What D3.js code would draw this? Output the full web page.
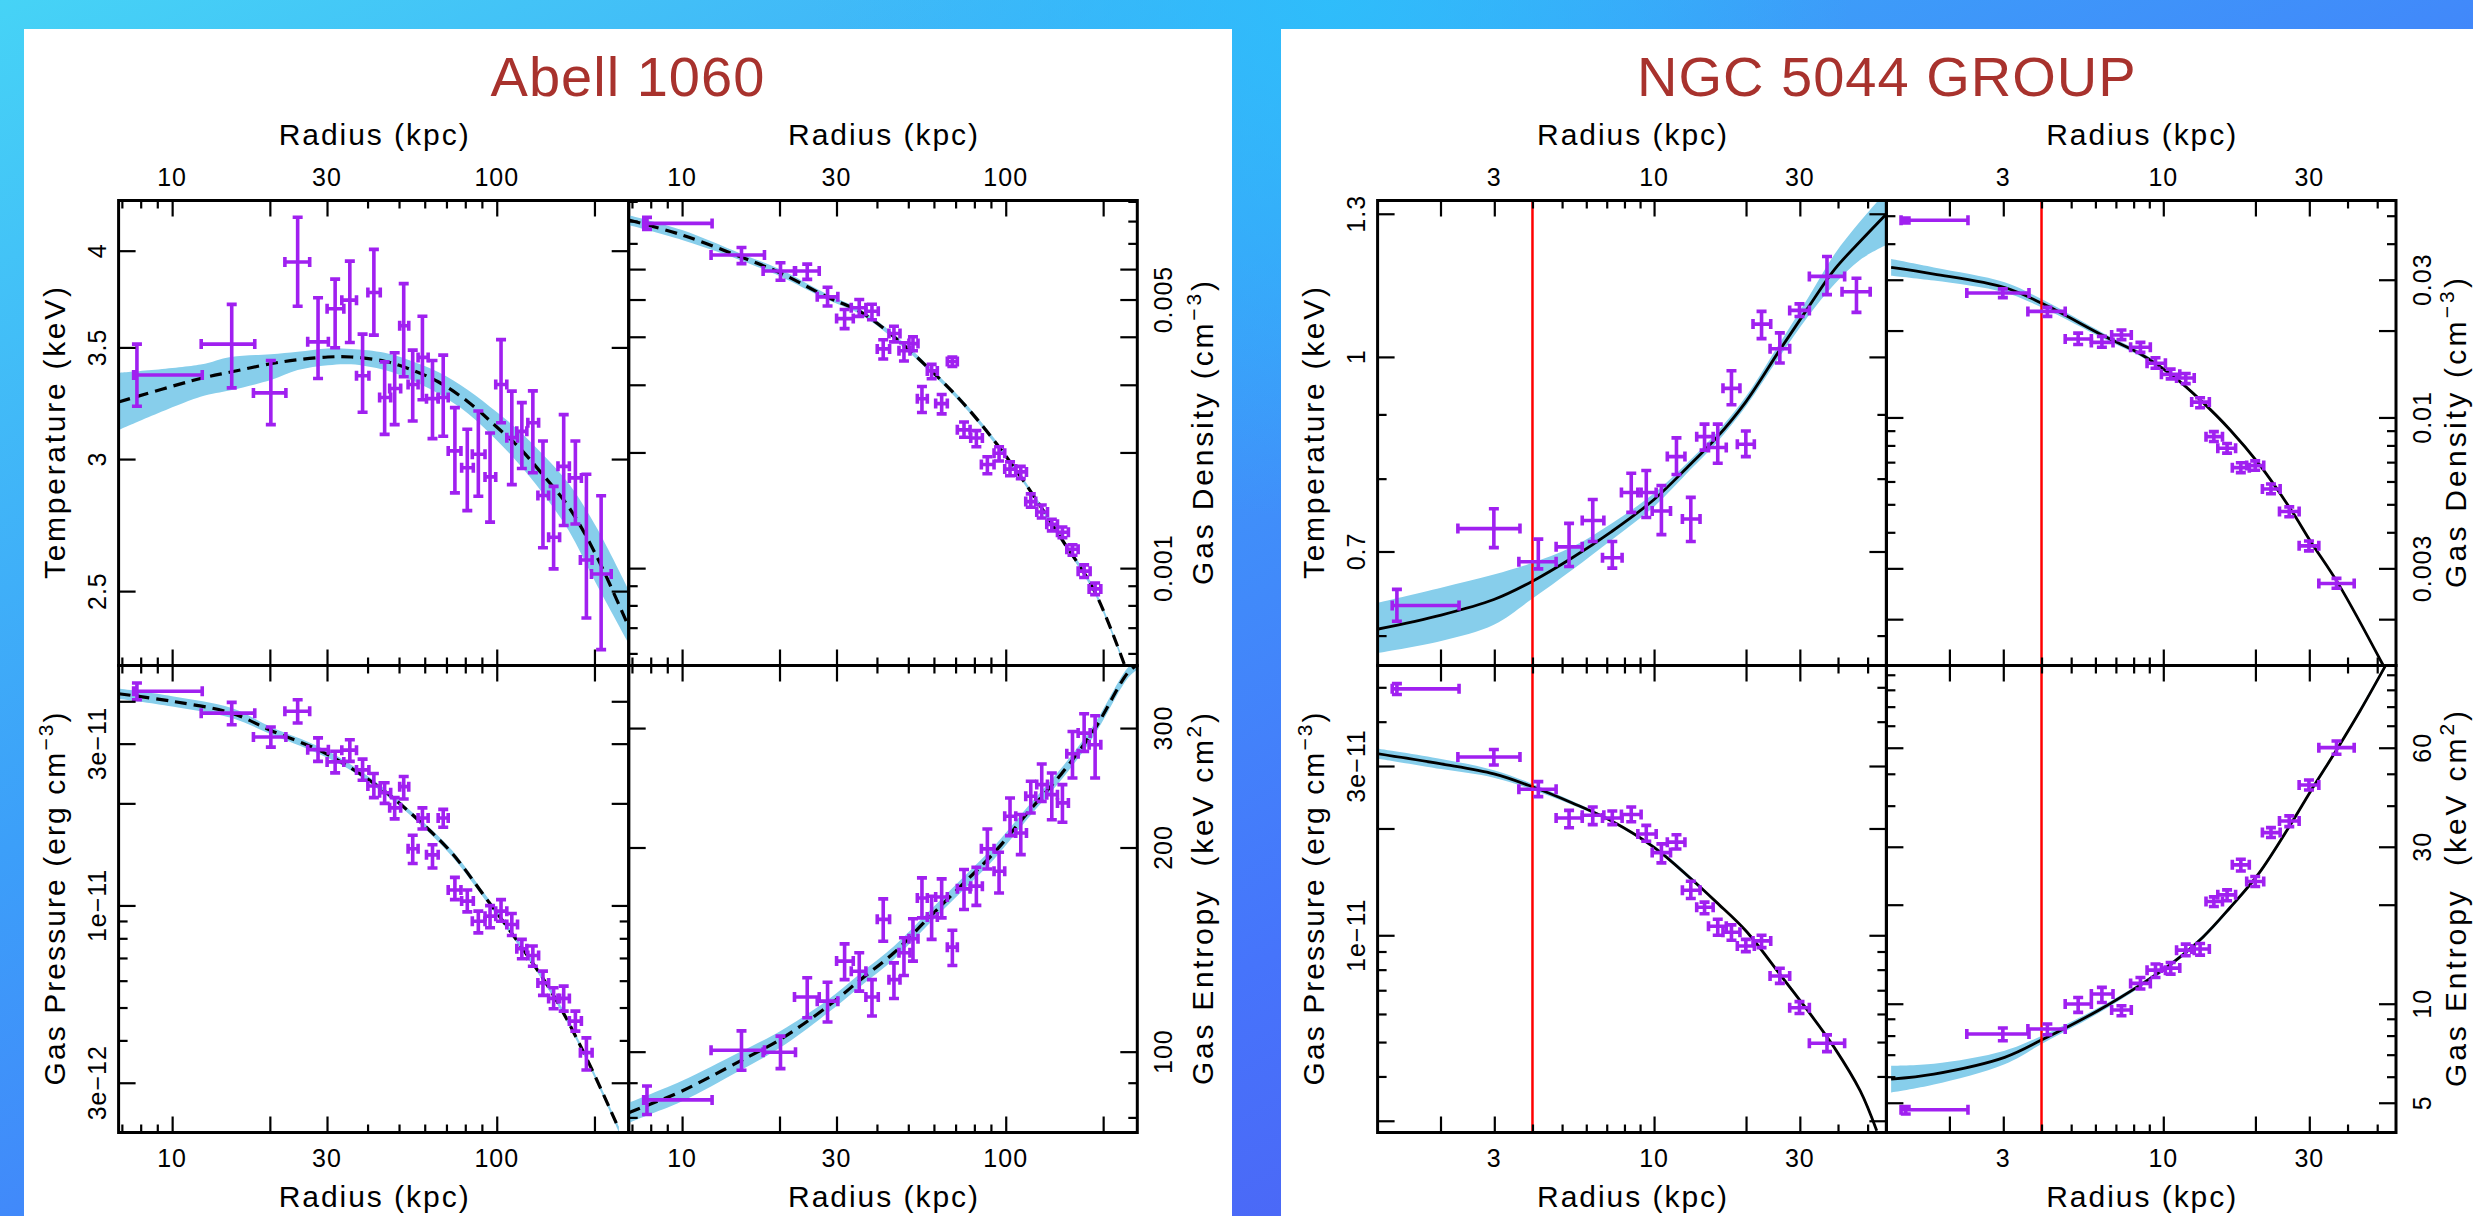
<!DOCTYPE html>
<html>
<head>
<meta charset="utf-8">
<script src="https://cdn.jsdelivr.net/npm/d3@7"></script>
<style>
html, body { margin: 0; padding: 0; overflow: hidden; background: #3f8ff8; }
svg { display: block; }
text { font-family: "Liberation Sans", Arial, Helvetica, sans-serif; }
</style>
</head>
<body>
<svg id="fig" width="2473" height="1216"></svg>
<script>
// ---------------- Abell 1060 : radial bins (kpc) ----------------
var a1060R   = [7.79, 15.26, 20.14, 24.36, 28.15, 31.78, 35.27, 38.61, 41.83, 45.15, 48.48, 51.69, 55.10, 59.03, 63.40, 68.41, 74.32, 81.15, 87.76, 95.37, 103.1, 111.3, 119.5, 129.2, 138.8, 149.7, 160.8, 174.7, 188.9, 209.7];
var a1060RLo = [7.61, 12.29, 17.80, 22.25, 26.16, 30.02, 33.32, 36.98, 40.09, 43.57, 46.79, 50.23, 53.32, 57.24, 60.75, 66.00, 70.87, 77.96, 84.09, 92.02, 99.29, 107.4, 115.3, 124.7, 133.9, 144.5, 154.4, 167.4, 181.0, 195.8];
var a1060RHi = [12.38, 17.97, 22.41, 26.53, 30.29, 33.80, 36.98, 40.38, 43.77, 47.13, 50.59, 53.57, 57.24, 61.47, 66.00, 70.87, 77.58, 84.69, 92.02, 99.29, 107.4, 115.9, 123.8, 134.6, 144.5, 156.2, 167.4, 182.3, 196.7, 225.2];

// temperature (keV)
var a1060T   = [3.369, 3.516, 3.287, 3.938, 3.527, 3.692, 3.736, 3.366, 3.776, 3.266, 3.307, 3.606, 3.325, 3.452, 3.261, 3.266, 3.034, 2.964, 3.020, 2.927, 3.325, 3.090, 3.117, 3.154, 2.853, 2.693, 2.970, 2.923, 2.610, 2.560];
var a1060THi = [3.516, 3.714, 3.437, 4.189, 3.748, 3.846, 3.943, 3.565, 4.007, 3.431, 3.474, 3.822, 3.487, 3.654, 3.437, 3.463, 3.221, 3.126, 3.206, 3.110, 3.538, 3.295, 3.243, 3.296, 3.076, 2.889, 3.190, 3.076, 2.938, 2.852];
var a1060TLo = [3.227, 3.310, 3.146, 3.705, 3.353, 3.498, 3.524, 3.200, 3.560, 3.104, 3.146, 3.361, 3.162, 3.256, 3.086, 3.096, 2.863, 2.794, 2.850, 2.750, 3.154, 2.896, 2.961, 2.944, 2.654, 2.578, 2.737, 2.743, 2.409, 2.306];

// gas density (cm^-3)
var a1060Ne   = [0.00789, 0.00653, 0.00593, 0.00593, 0.00508, 0.00446, 0.00476, 0.00466, 0.00372, 0.00408, 0.00368, 0.00384, 0.00276, 0.00326, 0.00268, 0.00345, 0.00229, 0.00218, 0.00186, 0.00199, 0.00181, 0.00178, 0.00149, 0.00140, 0.00130, 0.00124, 0.00112, 0.000982, 0.000883, null];
var a1060NeHi = [0.00818, 0.00683, 0.00623, 0.00618, 0.00538, 0.00471, 0.00500, 0.00486, 0.00393, 0.00426, 0.00386, 0.00400, 0.00297, 0.00339, 0.00283, 0.00354, 0.00240, 0.00228, 0.00195, 0.00207, 0.00189, 0.00184, 0.00156, 0.00146, 0.00134, 0.00128, 0.00115, 0.00102, 0.000915, null];
var a1060NeLo = [0.00761, 0.00620, 0.00561, 0.00564, 0.00481, 0.00420, 0.00452, 0.00443, 0.00350, 0.00388, 0.00346, 0.00368, 0.00254, 0.00311, 0.00252, 0.00335, 0.00219, 0.00207, 0.00176, 0.00190, 0.00174, 0.00171, 0.00144, 0.00135, 0.00125, 0.00120, 0.00108, 0.000945, 0.000853, null];

// gas pressure (erg cm^-3)
var a1060P   = [4.28e-11, 3.69e-11, 3.14e-11, 3.74e-11, 2.88e-11, 2.65e-11, 2.87e-11, 2.51e-11, 2.25e-11, 2.15e-11, 1.94e-11, 2.24e-11, 1.47e-11, 1.81e-11, 1.41e-11, 1.81e-11, 1.11e-11, 1.03e-11, 8.98e-12, 9.30e-12, 9.62e-12, 8.79e-12, 7.45e-12, 7.12e-12, 5.91e-12, 5.32e-12, 5.32e-12, 4.56e-12, 3.68e-12, null];
var a1060PHi = [4.53e-11, 3.97e-11, 3.36e-11, 4.04e-11, 3.12e-11, 2.85e-11, 3.08e-11, 2.70e-11, 2.45e-11, 2.30e-11, 2.08e-11, 2.40e-11, 1.61e-11, 1.94e-11, 1.51e-11, 1.92e-11, 1.21e-11, 1.11e-11, 9.62e-12, 9.99e-12, 1.04e-11, 9.47e-12, 7.94e-12, 7.59e-12, 6.40e-12, 5.72e-12, 5.78e-12, 4.88e-12, 4.07e-12, null];
var a1060PLo = [4.04e-11, 3.41e-11, 2.93e-11, 3.45e-11, 2.66e-11, 2.46e-11, 2.66e-11, 2.34e-11, 2.08e-11, 2.00e-11, 1.80e-11, 2.06e-11, 1.33e-11, 1.68e-11, 1.29e-11, 1.70e-11, 1.04e-11, 9.57e-12, 8.30e-12, 8.59e-12, 8.98e-12, 8.15e-12, 6.96e-12, 6.62e-12, 5.43e-12, 4.96e-12, 4.88e-12, 4.26e-12, 3.27e-12, null];

// gas entropy (keV cm^2)
var a1060K   = [84.9, 100.5, 99.8, 120.4, 118.7, 136.0, 131.4, 120.4, 156.7, 127.7, 139.9, 146.7, 168.5, 158.0, 169.1, 142.6, 173.8, 175.4, 199.1, 184.5, 222.4, 210.1, 238.0, 247.6, 239.3, 232.7, 275.0, 294.9, 283.5, null];
var a1060KHi = [89.0, 107.3, 105.4, 128.5, 126.6, 144.2, 139.9, 127.7, 168.0, 135.2, 147.2, 157.0, 180.4, 169.5, 179.8, 151.0, 185.6, 187.0, 213.0, 196.8, 236.6, 223.7, 250.4, 265.5, 257.5, 247.6, 296.6, 314.9, 312.8, null];
var a1060KLo = [80.8, 93.9, 94.4, 112.2, 110.6, 127.7, 122.8, 112.9, 145.5, 119.8, 129.5, 136.0, 157.5, 146.4, 157.5, 134.0, 162.0, 164.3, 185.9, 171.4, 208.2, 195.2, 224.9, 233.9, 219.8, 217.9, 253.2, 277.2, 253.2, null];

// model curves with their bands
var a1060FitTR  = [6.84, 12.23, 15.14, 20.14, 24.36, 30.17, 35.6, 45.15, 53.3, 66.0, 81.7, 100, 116.7, 137.8, 166.6, 201.4, 255.4];
var a1060FitT   = [3.246, 3.353, 3.383, 3.422, 3.441, 3.454, 3.454, 3.434, 3.400, 3.338, 3.246, 3.136, 3.051, 2.940, 2.808, 2.632, 2.378];
var a1060FitTHi = [3.379, 3.418, 3.454, 3.467, 3.479, 3.495, 3.492, 3.474, 3.441, 3.383, 3.299, 3.201, 3.122, 3.023, 2.900, 2.737, 2.502];
var a1060FitTLo = [3.122, 3.269, 3.299, 3.346, 3.392, 3.415, 3.419, 3.392, 3.353, 3.284, 3.194, 3.079, 2.982, 2.866, 2.718, 2.531, 2.324];

var a1060FitNeR  = [6.84, 10, 15.14, 20.05, 28.05, 35.6, 45.15, 57.2, 72.6, 92.0, 116.7, 147.9, 187.6, 232.3];
var a1060FitNe   = [0.00805, 0.00736, 0.00646, 0.00587, 0.00508, 0.00464, 0.00400, 0.00334, 0.00273, 0.00215, 0.00163, 0.00120, 0.000875, 0.000563];
var a1060FitNeHi = [0.00829, 0.00758, 0.00659, 0.00599, 0.00516, 0.00471, 0.00406, 0.00339, 0.00277, 0.00218, 0.00165, 0.00122, 0.000888, 0.000571];
var a1060FitNeLo = [0.00781, 0.00714, 0.00633, 0.00575, 0.00500, 0.00457, 0.00394, 0.00329, 0.00269, 0.00212, 0.00161, 0.00118, 0.000862, 0.000555];

var a1060FitPR  = [6.84, 10, 15.26, 20.14, 28.1, 35.6, 45.15, 57.2, 72.6, 92.0, 116.7, 147.9, 187.6, 237.9];
var a1060FitP   = [4.21e-11, 4.00e-11, 3.69e-11, 3.28e-11, 2.88e-11, 2.54e-11, 2.17e-11, 1.79e-11, 1.43e-11, 1.06e-11, 7.76e-12, 5.53e-12, 3.60e-12, 2.19e-12];
var a1060FitPHi = [4.36e-11, 4.14e-11, 3.82e-11, 3.36e-11, 2.95e-11, 2.60e-11, 2.21e-11, 1.82e-11, 1.46e-11, 1.08e-11, 7.90e-12, 5.63e-12, 3.66e-12, 2.23e-12];
var a1060FitPLo = [4.07e-11, 3.86e-11, 3.57e-11, 3.20e-11, 2.81e-11, 2.50e-11, 2.13e-11, 1.76e-11, 1.40e-11, 1.04e-11, 7.62e-12, 5.43e-12, 3.54e-12, 2.15e-12];

var a1060FitKR  = [6.84, 7.79, 10, 15.14, 20.14, 28.1, 35.6, 45.15, 57.2, 72.6, 92.0, 116.7, 147.9, 187.6, 237.9, 255];
var a1060FitK   = [81.3, 83.3, 87.5, 96.9, 104.3, 116.5, 127.7, 139.9, 156.7, 175.4, 196.4, 224.9, 256.1, 298.3, 361.5, 372];
var a1060FitKHi = [84.1, 86.2, 90.6, 100.0, 107.3, 119.1, 130.5, 143.0, 160.1, 179.3, 200.7, 229.4, 261.2, 304.0, 368.0, 378];
var a1060FitKLo = [78.5, 80.5, 84.5, 93.9, 101.4, 113.9, 124.9, 136.9, 153.3, 171.6, 192.2, 220.4, 251.0, 292.6, 355.0, 366];

// ---------------- NGC 5044 group : radial bins (kpc) ----------------
var n5044R   = [1.44, 2.99, 4.18, 5.27, 6.30, 7.30, 8.42, 9.43, 10.57, 11.84, 13.19, 14.63, 16.16, 17.92, 19.97, 22.48, 25.80, 29.92, 36.81, 45.97];
var n5044RLo = [1.39, 2.28, 3.61, 4.78, 5.82, 6.78, 7.82, 8.85, 9.86, 11.05, 12.38, 13.79, 15.07, 16.81, 18.73, 21.08, 23.97, 27.79, 32.23, 41.23];
var n5044RHi = [2.30, 3.64, 4.78, 5.82, 6.85, 7.86, 9.07, 10.16, 11.32, 12.62, 14.14, 15.61, 17.23, 19.10, 21.29, 24.09, 27.79, 32.23, 42.05, 50.97];

var n5044T   = [0.634, 0.730, 0.687, 0.706, 0.741, 0.692, 0.780, 0.780, 0.754, 0.833, 0.743, 0.864, 0.847, 0.944, 0.852, 1.062, 1.015, 1.089, 1.159, 1.127];
var n5044THi = [0.653, 0.757, 0.716, 0.737, 0.770, 0.713, 0.808, 0.812, 0.790, 0.862, 0.773, 0.884, 0.884, 0.975, 0.873, 1.087, 1.045, 1.102, 1.202, 1.155];
var n5044TLo = [0.616, 0.705, 0.678, 0.681, 0.713, 0.679, 0.752, 0.745, 0.722, 0.806, 0.713, 0.843, 0.823, 0.916, 0.833, 1.034, 0.989, 1.077, 1.121, 1.085];

var n5044Ne   = [0.0482, 0.0270, 0.0233, 0.0187, 0.0182, 0.0193, 0.0175, 0.0154, 0.0141, 0.0137, 0.0113, 0.00858, 0.00782, 0.00670, 0.00681, 0.00565, 0.00472, 0.00359, 0.00266, null];
var n5044NeHi = [0.0491, 0.0279, 0.0241, 0.0196, 0.0191, 0.0201, 0.0182, 0.0161, 0.0147, 0.0142, 0.0117, 0.00893, 0.00812, 0.00697, 0.00707, 0.00588, 0.00490, 0.00373, 0.00277, null];
var n5044NeLo = [0.0472, 0.0260, 0.0224, 0.0179, 0.0175, 0.0186, 0.0168, 0.0148, 0.0136, 0.0131, 0.0108, 0.00825, 0.00752, 0.00644, 0.00656, 0.00544, 0.00453, 0.00345, 0.00256, null];

var n5044P   = [4.95e-11, 3.18e-11, 2.58e-11, 2.14e-11, 2.18e-11, 2.14e-11, 2.19e-11, 1.93e-11, 1.71e-11, 1.83e-11, 1.34e-11, 1.20e-11, 1.06e-11, 1.02e-11, 9.33e-12, 9.64e-12, 7.68e-12, 6.25e-12, 4.96e-12, null];
var n5044PHi = [5.12e-11, 3.34e-11, 2.71e-11, 2.25e-11, 2.30e-11, 2.24e-11, 2.30e-11, 2.04e-11, 1.81e-11, 1.92e-11, 1.42e-11, 1.24e-11, 1.11e-11, 1.07e-11, 9.74e-12, 1.00e-11, 8.07e-12, 6.50e-12, 5.24e-12, null];
var n5044PLo = [4.77e-11, 3.02e-11, 2.46e-11, 2.01e-11, 2.05e-11, 2.05e-11, 2.09e-11, 1.84e-11, 1.60e-11, 1.75e-11, 1.27e-11, 1.15e-11, 1.00e-11, 9.68e-12, 8.99e-12, 9.23e-12, 7.32e-12, 6.02e-12, 4.70e-12, null];

var n5044K   = [4.76, 8.09, 8.38, 9.98, 10.70, 9.57, 11.53, 12.65, 12.83, 14.55, 14.66, 20.45, 21.43, 26.43, 23.52, 33.13, 35.94, 46.24, 60.03, null];
var n5044KHi = [4.87, 8.44, 8.68, 10.45, 11.21, 9.86, 12.02, 13.20, 13.35, 15.18, 15.25, 21.13, 22.19, 27.50, 24.36, 34.31, 37.23, 47.89, 62.90, null];
var n5044KLo = [4.62, 7.72, 8.05, 9.41, 10.09, 9.19, 11.08, 12.02, 12.30, 13.99, 14.05, 19.75, 20.55, 25.33, 22.72, 32.00, 34.55, 44.65, 57.30, null];

var n5044FitTR  = [1.24, 2.01, 2.99, 3.96, 5.40, 7.26, 10.0, 13.13, 15.99, 19.97, 25.8, 31.9, 38.86, 47.3, 57.7];
var n5044FitT   = [0.607, 0.623, 0.641, 0.662, 0.692, 0.726, 0.770, 0.821, 0.862, 0.921, 1.013, 1.094, 1.173, 1.236, 1.300];
var n5044FitTHi = [0.637, 0.655, 0.671, 0.685, 0.706, 0.737, 0.779, 0.828, 0.870, 0.930, 1.026, 1.114, 1.206, 1.282, 1.355];
var n5044FitTLo = [0.581, 0.594, 0.612, 0.641, 0.677, 0.715, 0.760, 0.813, 0.854, 0.913, 1.001, 1.077, 1.142, 1.195, 1.228];

var n5044FitNeR  = [1.29, 1.78, 3.03, 4.06, 6.42, 8.50, 10.77, 13.44, 16.54, 20.44, 26.17, 30.34, 37.51, 52.2];
var n5044FitNe   = [0.0331, 0.0314, 0.0282, 0.0247, 0.0191, 0.0165, 0.0139, 0.0113, 0.00905, 0.00694, 0.00478, 0.00371, 0.00263, 0.00139];
var n5044FitNeHi = [0.0354, 0.0331, 0.0294, 0.0255, 0.0195, 0.0168, 0.0141, 0.01145, 0.00917, 0.00703, 0.00484, 0.00376, 0.00266, 0.00141];
var n5044FitNeLo = [0.0310, 0.0298, 0.0271, 0.0239, 0.0187, 0.0162, 0.0137, 0.01115, 0.00893, 0.00685, 0.00472, 0.00366, 0.00260, 0.00137];

var n5044FitPR  = [1.24, 2.01, 2.99, 3.96, 5.40, 7.26, 10.0, 13.13, 15.99, 19.97, 25.8, 31.9, 38.86, 47.3, 53.56];
var n5044FitP   = [3.25e-11, 3.04e-11, 2.85e-11, 2.63e-11, 2.36e-11, 2.10e-11, 1.77e-11, 1.45e-11, 1.24e-11, 1.03e-11, 7.77e-12, 6.12e-12, 4.83e-12, 3.64e-12, 2.81e-12];
var n5044FitPHi = [3.36e-11, 3.14e-11, 2.92e-11, 2.68e-11, 2.39e-11, 2.12e-11, 1.79e-11, 1.47e-11, 1.25e-11, 1.04e-11, 7.86e-12, 6.19e-12, 4.88e-12, 3.68e-12, 2.84e-12];
var n5044FitPLo = [3.15e-11, 2.94e-11, 2.78e-11, 2.58e-11, 2.33e-11, 2.08e-11, 1.75e-11, 1.43e-11, 1.23e-11, 1.02e-11, 7.68e-12, 6.05e-12, 4.78e-12, 3.60e-12, 2.78e-12];

var n5044FitKR  = [1.29, 1.78, 3.03, 4.06, 6.11, 8.50, 10.77, 13.44, 16.54, 20.44, 26.17, 30.34, 37.51, 43.93, 53.5];
var n5044FitK   = [5.90, 6.11, 6.87, 7.81, 9.52, 11.47, 13.35, 15.90, 19.61, 24.76, 35.3, 44.34, 60.74, 77.57, 107.5];
var n5044FitKHi = [6.48, 6.57, 7.20, 8.03, 9.70, 11.63, 13.54, 16.12, 19.88, 25.10, 35.8, 44.97, 61.60, 78.70, 109.0];
var n5044FitKLo = [5.37, 5.68, 6.55, 7.60, 9.34, 11.31, 13.16, 15.68, 19.34, 24.42, 34.8, 43.72, 59.90, 76.50, 106.0];

var n5044Rcut = 4;   // red vertical line (kpc)

// ---------------- axis ticks ----------------
var a1060XMajor = [10, 20, 30, 100, 200], a1060XMinor = [7, 8, 9, 40, 50, 60, 70, 80, 90], a1060XLabels = [10, 30, 100];
var n5044XMajor = [2, 3, 10, 20, 30], n5044XMinor = [4, 5, 6, 7, 8, 9, 40, 50], n5044XLabels = [3, 10, 30];

var a1060TTicks = [2.5, 3, 3.5, 4], a1060TMinor = [], a1060TLabels = ["2.5", "3", "3.5", "4"];
var a1060NeTicks = [0.001, 0.002, 0.003, 0.004, 0.005, 0.006], a1060NeMinor = [0.0006, 0.0007, 0.0008, 0.0009, 0.007, 0.008, 0.009], a1060NeLabels = ["0.001", "", "", "", "0.005", ""];
var a1060PTicks = [3e-12, 1e-11, 2e-11, 3e-11, 4e-11], a1060PMinor = [4e-12, 5e-12, 6e-12, 7e-12, 8e-12, 9e-12], a1060PLabels = ["3e\u221212", "1e\u221211", "", "3e\u221211", ""];
var a1060KTicks = [100, 200, 300], a1060KMinor = [80, 90], a1060KLabels = ["100", "200", "300"];

var n5044TTicks = [0.7, 1, 1.3], n5044TMinor = [0.6, 0.8, 0.9], n5044TLabels = ["0.7", "1", "1.3"];
var n5044NeTicks = [0.002, 0.003, 0.01, 0.02, 0.03], n5044NeMinor = [0.004, 0.005, 0.006, 0.007, 0.008, 0.009, 0.04, 0.05], n5044NeLabels = ["", "0.003", "0.01", "", "0.03"];
var n5044PTicks = [3e-12, 1e-11, 2e-11, 3e-11], n5044PMinor = [4e-12, 5e-12, 6e-12, 7e-12, 8e-12, 9e-12, 4e-11, 5e-11], n5044PLabels = ["", "1e\u221211", "", "3e\u221211"];
var n5044KTicks = [5, 10, 20, 30, 60], n5044KMinor = [6, 7, 8, 9, 40, 50, 70, 80, 90, 100], n5044KLabels = ["5", "10", "", "30", "60"];

// ---------------- layout ----------------
var W = 2473, H = 1216;
var PURPLE = "#a020f0", BAND = "#87ceeb", TITLE_RED = "#a8322d";
var rows = [[200.5, 665.5], [665.5, 1132.5]];

var figs = [
  { title: "Abell 1060", cols: [[118.6, 628.7], [628.7, 1137.3]], rDomain: [6.84, 255],
    r: a1060R, rLo: a1060RLo, rHi: a1060RHi, dashed: true, cut: null,
    xMajor: a1060XMajor, xMinor: a1060XMinor, xLabels: a1060XLabels, rightTitleOff: 76 },
  { title: "NGC 5044 GROUP", cols: [[1377.6, 1886.4], [1886.4, 2396]], rDomain: [1.245, 57.6],
    r: n5044R, rLo: n5044RLo, rHi: n5044RHi, dashed: false, cut: n5044Rcut,
    xMajor: n5044XMajor, xMinor: n5044XMinor, xLabels: n5044XLabels, rightTitleOff: 70 }
];

var panels = [
  { fig: 0, col: 0, row: 0, yDomain: [2.256, 4.287], title: ["Temperature (keV)"], len: 292,
    y: a1060T, yHi: a1060THi, yLo: a1060TLo, fr: a1060FitTR, fy: a1060FitT, fHi: a1060FitTHi, fLo: a1060FitTLo,
    ticks: a1060TTicks, minor: a1060TMinor, labels: a1060TLabels },
  { fig: 0, col: 1, row: 0, yDomain: [0.000558, 0.00905], title: ["Gas Density (cm", "\u22123", ")"], len: 304,
    y: a1060Ne, yHi: a1060NeHi, yLo: a1060NeLo, fr: a1060FitNeR, fy: a1060FitNe, fHi: a1060FitNeHi, fLo: a1060FitNeLo,
    ticks: a1060NeTicks, minor: a1060NeMinor, labels: a1060NeLabels },
  { fig: 0, col: 0, row: 1, yDomain: [2.14e-12, 5.10e-11], title: ["Gas Pressure (erg cm", "\u22123", ")"], len: 373,
    y: a1060P, yHi: a1060PHi, yLo: a1060PLo, fr: a1060FitPR, fy: a1060FitP, fHi: a1060FitPHi, fLo: a1060FitPLo,
    ticks: a1060PTicks, minor: a1060PMinor, labels: a1060PLabels },
  { fig: 0, col: 1, row: 1, yDomain: [76.0, 371], title: ["Gas Entropy  (keV cm", "2", ")"], len: 372,
    y: a1060K, yHi: a1060KHi, yLo: a1060KLo, fr: a1060FitKR, fy: a1060FitK, fHi: a1060FitKHi, fLo: a1060FitKLo,
    ticks: a1060KTicks, minor: a1060KMinor, labels: a1060KLabels },
  { fig: 1, col: 0, row: 0, yDomain: [0.568, 1.332], title: ["Temperature (keV)"], len: 292,
    y: n5044T, yHi: n5044THi, yLo: n5044TLo, fr: n5044FitTR, fy: n5044FitT, fHi: n5044FitTHi, fLo: n5044FitTLo,
    ticks: n5044TTicks, minor: n5044TMinor, labels: n5044TLabels },
  { fig: 1, col: 1, row: 0, yDomain: [0.001382, 0.05645], title: ["Gas Density (cm", "\u22123", ")"], len: 310,
    y: n5044Ne, yHi: n5044NeHi, yLo: n5044NeLo, fr: n5044FitNeR, fy: n5044FitNe, fHi: n5044FitNeHi, fLo: n5044FitNeLo,
    ticks: n5044NeTicks, minor: n5044NeMinor, labels: n5044NeLabels },
  { fig: 1, col: 0, row: 1, yDomain: [2.78e-12, 5.76e-11], title: ["Gas Pressure (erg cm", "\u22123", ")"], len: 373,
    y: n5044P, yHi: n5044PHi, yLo: n5044PLo, fr: n5044FitPR, fy: n5044FitP, fHi: n5044FitPHi, fLo: n5044FitPLo,
    ticks: n5044PTicks, minor: n5044PMinor, labels: n5044PLabels },
  { fig: 1, col: 1, row: 1, yDomain: [4.06, 106.7], title: ["Gas Entropy  (keV cm", "2", ")"], len: 376,
    y: n5044K, yHi: n5044KHi, yLo: n5044KLo, fr: n5044FitKR, fy: n5044FitK, fHi: n5044FitKHi, fLo: n5044FitKLo,
    ticks: n5044KTicks, minor: n5044KMinor, labels: n5044KLabels }
];

var svg = d3.select("#fig");
var defs = svg.append("defs");

// background
var bg = defs.append("linearGradient").attr("id", "bg")
  .attr("x1", 0).attr("y1", 0).attr("x2", 1).attr("y2", 1);
[[0, "#46d3f6"], [0.35, "#3c9ff9"], [0.65, "#4674fb"], [1, "#5550ee"]].forEach(function(s) {
  bg.append("stop").attr("offset", s[0]).attr("stop-color", s[1]);
});
var glow = defs.append("radialGradient").attr("id", "glow").attr("gradientUnits", "userSpaceOnUse")
  .attr("cx", 1330).attr("cy", 0).attr("r", 520);
glow.append("stop").attr("offset", 0).attr("stop-color", "#2cc0fb").attr("stop-opacity", 0.85);
glow.append("stop").attr("offset", 1).attr("stop-color", "#2cc0fb").attr("stop-opacity", 0);
svg.append("rect").attr("width", W).attr("height", H).attr("fill", "url(#bg)");
svg.append("rect").attr("width", W).attr("height", H).attr("fill", "url(#glow)");

svg.append("rect").attr("x", 24).attr("y", 29).attr("width", 1232 - 24).attr("height", H - 29).attr("fill", "#fff");
svg.append("rect").attr("x", 1281).attr("y", 29).attr("width", W - 1281).attr("height", H - 29).attr("fill", "#fff");

// figure titles
figs.forEach(function(f) {
  svg.append("text").attr("x", (f.cols[0][0] + f.cols[1][1]) / 2).attr("y", 96)
    .attr("text-anchor", "middle").attr("font-size", 56).attr("letter-spacing", 1)
    .attr("fill", TITLE_RED).text(f.title);
});

function tickAxis(g, axisFn, scale, vals, len, tr) {
  if (!vals.length) return;
  var a = g.append("g").attr("transform", tr)
    .call(axisFn(scale).tickValues(vals).tickSize(-len).tickSizeOuter(0).tickFormat(""));
  a.select(".domain").remove();
  a.selectAll("line").attr("stroke", "#000").attr("stroke-width", 2.2);
}

function addTitle(sel, parts) {
  sel.append("tspan").text(parts[0]);
  if (parts.length > 1) {
    sel.append("tspan").attr("font-size", 21).attr("dy", -12).text(parts[1]);
    sel.append("tspan").attr("dy", 12).text(parts[2]);
  }
}

panels.forEach(function(p, k) {
  var f = figs[p.fig];
  var x0 = f.cols[p.col][0], x1 = f.cols[p.col][1];
  var y0 = rows[p.row][0], y1 = rows[p.row][1];
  var x = d3.scaleLog().domain(f.rDomain).range([x0, x1]);
  var y = d3.scaleLog().domain(p.yDomain).range([y1, y0]);

  var clipId = "clip" + k;
  defs.append("clipPath").attr("id", clipId).append("rect")
    .attr("x", x0).attr("y", y0).attr("width", x1 - x0).attr("height", y1 - y0);

  var g = svg.append("g");
  var pg = g.append("g").attr("clip-path", "url(#" + clipId + ")");
  var idx = d3.range(p.fr.length);

  // confidence band
  pg.append("path")
    .attr("d", d3.area().curve(d3.curveCatmullRom)
      .x(function(i) { return x(p.fr[i]); })
      .y0(function(i) { return y(p.fLo[i]); })
      .y1(function(i) { return y(p.fHi[i]); })(idx))
    .attr("fill", BAND);

  // best-fit curve
  pg.append("path")
    .attr("d", d3.line().curve(d3.curveCatmullRom)
      .x(function(i) { return x(p.fr[i]); })
      .y(function(i) { return y(p.fy[i]); })(idx))
    .attr("fill", "none").attr("stroke", "#000")
    .attr("stroke-width", f.dashed ? 3.2 : 2.8)
    .attr("stroke-dasharray", f.dashed ? "12,7" : null);

  if (f.cut) {
    pg.append("line").attr("x1", x(f.cut)).attr("x2", x(f.cut)).attr("y1", y0).attr("y2", y1)
      .attr("stroke", "#ff0000").attr("stroke-width", 2.5);
  }

  // data with error bars
  var c = 5;
  var pts = d3.range(p.y.length).filter(function(i) { return p.y[i] != null; });
  pg.append("g").attr("stroke", PURPLE).attr("stroke-width", 3.6).attr("fill", "none")
    .selectAll("path").data(pts).join("path")
    .attr("d", function(i) {
      var cx = x(f.r[i]), cy = y(p.y[i]);
      var xl = x(f.rLo[i]), xr = x(f.rHi[i]), yt = y(p.yHi[i]), yb = y(p.yLo[i]);
      return "M" + xl + "," + cy + "H" + xr +
        "M" + cx + "," + yt + "V" + yb +
        "M" + xl + "," + (cy - c) + "V" + (cy + c) +
        "M" + xr + "," + (cy - c) + "V" + (cy + c) +
        "M" + (cx - c) + "," + yt + "H" + (cx + c) +
        "M" + (cx - c) + "," + yb + "H" + (cx + c);
    });

  // inward ticks on all four sides
  tickAxis(g, d3.axisTop, x, f.xMajor, 16, "translate(0," + y0 + ")");
  tickAxis(g, d3.axisTop, x, f.xMinor, 8, "translate(0," + y0 + ")");
  tickAxis(g, d3.axisBottom, x, f.xMajor, 16, "translate(0," + y1 + ")");
  tickAxis(g, d3.axisBottom, x, f.xMinor, 8, "translate(0," + y1 + ")");
  tickAxis(g, d3.axisLeft, y, p.ticks, 17, "translate(" + x0 + ",0)");
  tickAxis(g, d3.axisLeft, y, p.minor, 9, "translate(" + x0 + ",0)");
  tickAxis(g, d3.axisRight, y, p.ticks, 17, "translate(" + x1 + ",0)");
  tickAxis(g, d3.axisRight, y, p.minor, 9, "translate(" + x1 + ",0)");

  g.append("rect").attr("x", x0).attr("y", y0).attr("width", x1 - x0).attr("height", y1 - y0)
    .attr("fill", "none").attr("stroke", "#000").attr("stroke-width", 3);

  // x tick labels + title (top row: above, bottom row: below)
  var top = p.row === 0;
  g.append("g").selectAll("text").data(f.xLabels).join("text")
    .attr("x", function(d) { return x(d); }).attr("y", top ? 186 : 1167)
    .attr("text-anchor", "middle").attr("font-size", 25).attr("letter-spacing", 1)
    .text(function(d) { return d; });
  g.append("text").attr("x", (x0 + x1) / 2).attr("y", top ? 145 : 1207)
    .attr("text-anchor", "middle").attr("font-size", 30)
    .attr("textLength", 190).attr("lengthAdjust", "spacing")
    .text("Radius (kpc)");

  // y tick labels (rotated), left for first column, right for second
  var left = p.col === 0;
  var lx = left ? x0 - 13 : x1 + 35;
  var lab = p.ticks.map(function(v, i) { return { v: v, t: p.labels[i] }; }).filter(function(d) { return d.t; });
  g.append("g").selectAll("text").data(lab).join("text")
    .attr("transform", function(d) { return "translate(" + lx + "," + y(d.v) + ") rotate(-90)"; })
    .attr("text-anchor", "middle").attr("font-size", 25).attr("letter-spacing", 1)
    .text(function(d) { return d.t; });

  var tx = left ? x0 - 54 : x1 + f.rightTitleOff;
  var tt = g.append("text")
    .attr("transform", "translate(" + tx + "," + (y0 + y1) / 2 + ") rotate(-90)")
    .attr("text-anchor", "middle").attr("font-size", 30)
    .attr("textLength", p.len).attr("lengthAdjust", "spacing")
    .attr("xml:space", "preserve").style("white-space", "pre");
  addTitle(tt, p.title);
});
</script>
</body>
</html>
